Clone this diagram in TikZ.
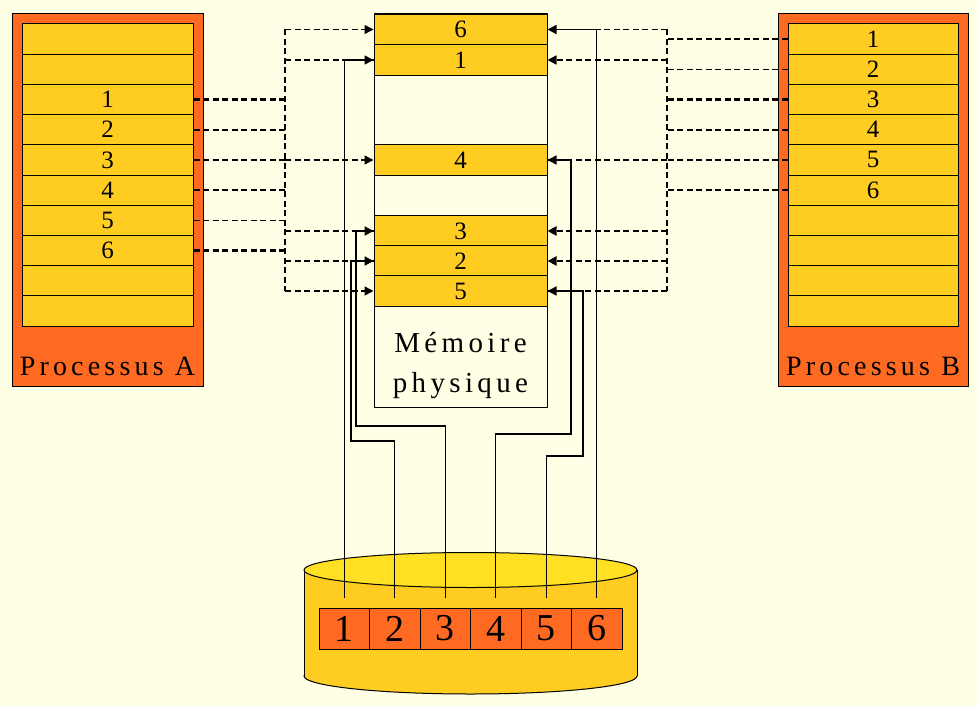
\documentclass[tikz,border=0pt]{standalone}
\usepackage{fontspec}
\setmainfont{Liberation Serif}
\newfontfamily\espace[LetterSpace=15]{Liberation Serif}
\usetikzlibrary{arrows.meta}
\definecolor{fond}{RGB}{255,255,229}
\definecolor{orangeproc}{RGB}{255,106,34}
\definecolor{jaune}{RGB}{255,204,34}
\definecolor{jauneclair}{RGB}{255,224,34}

\tikzset{
  page/.style={draw, fill=jaune, minimum width=171pt, minimum height=30.2pt,
    inner sep=0pt, font=\fontsize{25}{30}\selectfont},
  cadre/.style={page, minimum width=173pt, minimum height=30.4pt},
  bloc/.style={draw, fill=orangeproc, minimum width=50.5pt, minimum height=41pt,
    inner sep=0pt, font=\fontsize{38}{40}\selectfont},
  lien/.style={dash pattern=on 6pt off 3.5pt, line width=1.5pt},
  lienfort/.style={lien, line width=2.2pt},
  fleche/.style={-{Triangle[length=9pt,width=9pt]}},
  fil/.style={line width=1.1pt}
}

\begin{document}
\begin{tikzpicture}[x=1pt, y=-1pt, line width=1pt]
   \path[fill=fond, use as bounding box] (0,0) rectangle (977,706);
   % processus A
   \node[draw, fill=orangeproc, minimum width=191pt, minimum height=372pt] (procA) at (107.5,200) {};
   \foreach \i/\t in {1/{},2/{},3/1,4/2,5/3,6/4,7/5,8/6,9/{},10/{}}
      \node[page] (a\i) at (107.5,{24+30.2*(\i-0.5)}) {\t};
   \node[font=\espace\fontsize{28}{28}\selectfont] (nomA) at (107.5,366) {Processus A};
   % processus B
   \node[draw, fill=orangeproc, minimum width=190pt, minimum height=372pt] (procB) at (873,200) {};
   \foreach \i/\t in {1/1,2/2,3/3,4/4,5/5,6/6,7/{},8/{},9/{},10/{}}
      \node[page, minimum width=170pt] (b\i) at (873,{24+30.2*(\i-0.5)}) {\t};
   \node[font=\espace\fontsize{28}{28}\selectfont] (nomB) at (873,366) {Processus B};
   % memoire physique
   \node[draw, fill=fond, minimum width=173pt, minimum height=393pt] (mem) at (460.5,210.5) {};
   \foreach \n/\y in {6/29.5,1/60,4/160,3/231,2/261,5/291}
      \node[cadre] (m\n) at (460.5,\y) {\n};
   \node[font=\espace\fontsize{29}{40}\selectfont, align=center] (nomM) at (460.5,366) {Mémoire\\physique};
   % disque
   \filldraw[fill=jaune] (470.5,676) ellipse [x radius=166.5pt, y radius=18pt];
   \fill[jaune] (304,570) rectangle (637,676);
   \draw (304,570) -- (304,676) (637,570) -- (637,676);
   \filldraw[fill=jauneclair] (470.5,570) ellipse [x radius=166.5pt, y radius=17.5pt];
   \foreach \i in {1,...,6}{
      \node[bloc] (d\i) at ({319+50.5*(\i-0.5)},628.5) {\i};
      \coordinate (t\i) at ([yshift=10pt]d\i.north);
   }
   % fils du disque vers la memoire
   \draw[fil] (t1) |- (m1.west);
   \draw[fil] (t2) |- (351,441) |- (m2.west);
   \draw[fil] (t3) |- (356,426) |- (m3.west);
   \draw[fil] (t4) |- (571,434) |- (m4.east);
   \draw[fil] (t5) |- (583,456) |- (m5.east);
   \draw[fil] (t6) |- (m6.east);
   % tables des pages
   \coordinate (busA) at (285,0);
   \coordinate (busB) at (667,0);
   \draw[lien] (busA |- m6.west) -- (busA |- m5.west);
   \draw[lien] (busB |- m6.east) -- (busB |- m5.east);
   \foreach \i/\s in {3/lienfort,4/lienfort,5/lien,6/lien,7/lien,8/lienfort}
      \draw[\s] (a\i.east) -- (a\i.east -| busA);
   \foreach \i/\s in {1/lien,2/lien,3/lienfort,4/lienfort,5/lien,6/lien}
      \draw[\s] (b\i.west) -- (b\i.west -| busB);
   \foreach \n/\s in {6/lien,1/lien,4/lien,3/lienfort,2/lienfort,5/lien}{
      \draw[\s, fleche] (busA |- m\n.west) -- (m\n.west);
      \draw[\s, fleche] (busB |- m\n.east) -- (m\n.east);
   }
\end{tikzpicture}
\end{document}
